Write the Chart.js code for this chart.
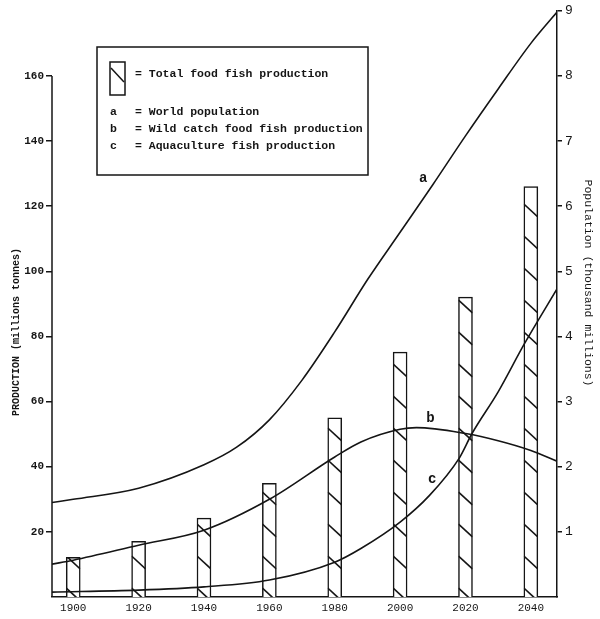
<!DOCTYPE html>
<html>
<head>
<meta charset="utf-8">
<script src="https://cdn.jsdelivr.net/npm/chart.js@4.4.1/dist/chart.umd.min.js"></script>
<style>
  html, body { margin: 0; padding: 0; background: #fff; }
  #wrap { width: 600px; height: 619px; position: relative; }
</style>
</head>
<body>
<div id="wrap"><canvas id="canvas"></canvas></div>
<script>
// total food fish production (million tonnes), one bar every 20 years
var barYears = [1900, 1920, 1940, 1960, 1980, 2000, 2020, 2040];
var totalProduction = [12.2, 17.1, 24.2, 34.9, 55, 75.2, 92.1, 126];

// a - world population (thousand millions)
var popYears = [1893.5, 1900, 1920, 1940, 1950, 1960, 1970, 1980, 1990, 2000, 2010, 2020, 2030, 2040, 2048];
var population = [1.45, 1.5, 1.67, 2.03, 2.3, 2.72, 3.33, 4.07, 4.87, 5.6, 6.33, 7.08, 7.8, 8.5, 8.98];

// b - wild catch food fish production (million tonnes)
var catchYears = [1893.5, 1900, 1920, 1940, 1960, 1980, 1988, 2000, 2005, 2020, 2030, 2040, 2048];
var wildCatch = [10.1, 11.3, 15.9, 20.5, 30, 43, 47.6, 51.5, 52, 50.2, 48, 45, 41.7];

// c - aquaculture fish production (million tonnes)
var aquaYears = [1893.5, 1920, 1940, 1960, 1980, 1988, 2000, 2009, 2018, 2022, 2030, 2038, 2048];
var aquaculture = [1.5, 2.1, 3.1, 5.2, 10.7, 14.9, 23, 31.2, 42.5, 50.2, 63, 77.7, 94.6];

var productionTicks = [20, 40, 60, 80, 100, 120, 140, 160];
var populationTicks = [1, 2, 3, 4, 5, 6, 7, 8, 9];
var yearTicks = barYears;

var INK = '#151515';
var MONO = '"Liberation Mono", "Courier New", monospace';

function pts(xs, ys) {
    return xs.map(function(x, i) { return {x: x, y: ys[i]}; });
}

// hatch strokes inside the bars, anchored on the base line
var hatchPlugin = {
    id: 'hatch',
    afterDatasetDraw: function(chart, args) {
        if (args.index !== 0) return;
        var ctx = chart.ctx;
        args.meta.data.forEach(function(bar) {
            var p = bar.getProps(['x', 'y', 'base', 'width'], true);
            var l = p.x - p.width / 2, r = p.x + p.width / 2;
            ctx.save();
            ctx.beginPath();
            ctx.rect(l, p.y, p.width, p.base - p.y);
            ctx.clip();
            ctx.strokeStyle = INK;
            ctx.lineWidth = 1.7;
            for (var y = p.base - 9; y > p.y - 14; y -= 32) {
                ctx.beginPath();
                ctx.moveTo(l, y);
                ctx.lineTo(r, y + 13);
                ctx.stroke();
            }
            ctx.restore();
        });
    }
};

// axis titles, curve letters, boxed key, short left axis
var decoPlugin = {
    id: 'deco',
    afterDraw: function(chart) {
        var ctx = chart.ctx;
        var xs = chart.scales.x, ys = chart.scales.y, y2 = chart.scales.y2;
        ctx.save();
        ctx.strokeStyle = INK;
        ctx.fillStyle = INK;

        // left axis only goes up to 160
        ctx.lineWidth = 1.5;
        ctx.beginPath();
        ctx.moveTo(xs.left, ys.getPixelForValue(160));
        ctx.lineTo(xs.left, ys.getPixelForValue(0));
        ctx.stroke();

        // axis titles
        ctx.font = 'bold 10px ' + MONO;
        ctx.textAlign = 'center';
        ctx.textBaseline = 'middle';
        ctx.save();
        ctx.translate(16, 332);
        ctx.rotate(-Math.PI / 2);
        ctx.fillText('PRODUCTION (millions tonnes)', 0, 0);
        ctx.restore();

        ctx.font = '11.5px ' + MONO;
        ctx.save();
        ctx.translate(588, 283);
        ctx.rotate(Math.PI / 2);
        ctx.fillText('Population (thousand millions)', 0, 0);
        ctx.restore();

        // curve letters
        ctx.font = 'bold 14px ' + MONO;
        ctx.fillText('a', xs.getPixelForValue(2007.1), y2.getPixelForValue(6.43));
        ctx.fillText('b', xs.getPixelForValue(2009.3), ys.getPixelForValue(54.8));
        ctx.fillText('c', xs.getPixelForValue(2009.8), ys.getPixelForValue(36.2));

        // key
        ctx.lineWidth = 1.5;
        ctx.strokeRect(97, 47, 271, 128);
        ctx.fillStyle = '#fff';
        ctx.fillRect(110, 62, 15, 33);
        ctx.strokeRect(110, 62, 15, 33);
        ctx.beginPath();
        ctx.moveTo(111, 68);
        ctx.lineTo(124, 82);
        ctx.stroke();
        ctx.fillStyle = INK;
        ctx.font = 'bold 11.5px ' + MONO;
        ctx.textAlign = 'left';
        ctx.fillText('= Total food fish production', 135, 74);
        ctx.fillText('a', 110, 112);
        ctx.fillText('= World population', 135, 112);
        ctx.fillText('b', 110, 129);
        ctx.fillText('= Wild catch food fish production', 135, 129);
        ctx.fillText('c', 110, 146);
        ctx.fillText('= Aquaculture fish production', 135, 146);
        ctx.restore();
    }
};

var ctx = document.getElementById('canvas').getContext('2d');
var chart = new Chart(ctx, {
    type: 'bar',
    data: {
        datasets: [{
            label: 'Total food fish production',
            data: pts(barYears, totalProduction),
            yAxisID: 'y',
            backgroundColor: '#fff',
            borderColor: INK,
            borderWidth: 1.5,
            barThickness: 14,
            order: 2
        }, {
            type: 'line',
            label: 'World population',
            data: pts(popYears, population),
            yAxisID: 'y2',
            borderColor: INK,
            borderWidth: 1.6,
            pointRadius: 0,
            fill: false,
            cubicInterpolationMode: 'monotone',
            order: 1
        }, {
            type: 'line',
            label: 'Wild catch food fish production',
            data: pts(catchYears, wildCatch),
            yAxisID: 'y',
            borderColor: INK,
            borderWidth: 1.6,
            pointRadius: 0,
            fill: false,
            cubicInterpolationMode: 'monotone',
            order: 1
        }, {
            type: 'line',
            label: 'Aquaculture fish production',
            data: pts(aquaYears, aquaculture),
            yAxisID: 'y',
            borderColor: INK,
            borderWidth: 1.6,
            pointRadius: 0,
            fill: false,
            cubicInterpolationMode: 'monotone',
            order: 1
        }]
    },
    options: {
        responsive: true,
        maintainAspectRatio: false,
        animation: false,
        layout: { padding: { top: 9, left: 0, right: 0, bottom: 0 } },
        plugins: { legend: { display: false }, tooltip: { enabled: false } },
        scales: {
            x: {
                type: 'linear',
                offset: false,
                min: 1893.5,
                max: 2048,
                afterBuildTicks: function(s) { s.ticks = yearTicks.map(function(v) { return {value: v}; }); },
                afterFit: function(s) { s.height = 22; },
                grid: { display: false, drawTicks: false },
                border: { display: true, color: INK, width: 1.5 },
                ticks: {
                    color: INK, font: { family: MONO, size: 11 }, padding: 4, maxRotation: 0,
                    callback: function(v) { return String(v); }
                }
            },
            y: {
                position: 'left',
                min: 0,
                max: 180,
                afterBuildTicks: function(s) { s.ticks = productionTicks.map(function(v) { return {value: v}; }); },
                afterFit: function(s) { s.width = 52; },
                grid: { drawOnChartArea: false, tickLength: 6, color: INK, lineWidth: 1.5 },
                border: { display: false },
                ticks: { color: INK, font: { family: MONO, size: 11, weight: 'bold' }, padding: 2 }
            },
            y2: {
                position: 'right',
                min: 0,
                max: 9,
                afterBuildTicks: function(s) { s.ticks = populationTicks.map(function(v) { return {value: v}; }); },
                afterFit: function(s) { s.width = 43; },
                grid: { drawOnChartArea: false, tickLength: 5, color: INK, lineWidth: 1.5 },
                border: { display: true, color: INK, width: 1.5 },
                ticks: { color: INK, font: { family: MONO, size: 13 }, padding: 3 }
            }
        }
    },
    plugins: [hatchPlugin, decoPlugin]
});
</script>
</body>
</html>
